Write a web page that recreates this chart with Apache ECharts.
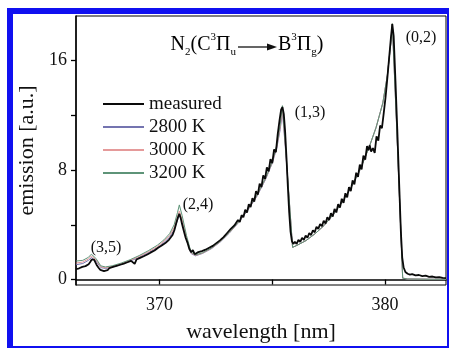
<!DOCTYPE html>
<html><head><meta charset="utf-8">
<script src="https://cdn.jsdelivr.net/npm/echarts@6/dist/echarts.min.js"></script>
<style>html,body{margin:0;padding:0;background:#fff}#c{width:449px;height:348px}</style>
</head><body><div id="c"></div>
<script>
const seriesNames = ['measured', '2800 K', '3000 K', '3200 K'];
const xTickLabels = [370, 380];
const xTicks = [370, 375, 380];
const yTickLabels = [0, 8, 16];
const yTicks = [0, 4, 8, 12, 16];
const bandLabels = ['(0,2)', '(1,3)', '(2,4)', '(3,5)'];

const measured = [[366.30,0.75],[366.37,0.66],[366.44,0.82],[366.51,0.74],[366.58,0.92],[366.65,0.84],[366.72,0.98],[366.79,0.90],[366.86,1.12],[366.93,1.28],[366.99,1.45],[367.04,1.58],[367.10,1.45],[367.16,1.25],[367.23,1.02],[367.30,0.86],[367.38,0.70],[367.46,0.78],[367.54,0.62],[367.62,0.74],[367.70,0.68],[367.78,0.84],[367.86,0.76],[367.94,0.92],[368.02,0.85],[368.10,1.00],[368.18,0.93],[368.26,1.08],[368.34,1.01],[368.42,1.16],[368.50,1.10],[368.58,1.26],[368.66,1.19],[368.74,1.36],[368.82,1.30],[368.90,1.15],[368.98,1.46],[369.06,1.40],[369.14,1.58],[369.22,1.50],[369.30,1.70],[369.38,1.63],[369.46,1.83],[369.54,1.76],[369.62,1.98],[369.70,1.90],[369.78,2.12],[369.86,2.05],[369.94,2.32],[370.02,2.24],[370.10,2.48],[370.18,2.40],[370.26,2.66],[370.34,2.58],[370.42,2.90],[370.50,2.82],[370.58,3.25],[370.66,3.60],[370.74,4.10],[370.82,4.55],[370.88,4.80],[370.94,4.50],[371.00,4.05],[371.08,3.55],[371.16,3.05],[371.24,2.70],[371.32,2.25],[371.40,2.00],[371.48,2.15],[371.56,1.85],[371.64,1.75],[371.72,2.00],[371.80,1.90],[371.88,2.08],[371.96,2.02],[372.04,2.18],[372.12,2.12],[372.20,2.32],[372.28,2.26],[372.36,2.46],[372.44,2.40],[372.52,2.66],[372.60,2.56],[372.68,2.86],[372.76,2.76],[372.84,3.10],[372.92,3.00],[373.00,3.40],[373.08,3.30],[373.16,3.70],[373.24,3.60],[373.32,3.95],[373.40,3.85],[373.48,4.35],[373.56,4.20],[373.64,4.70],[373.72,4.55],[373.80,5.10],[373.88,4.90],[373.96,5.50],[374.04,5.30],[374.12,5.95],[374.20,5.70],[374.28,6.45],[374.36,6.20],[374.44,7.00],[374.52,6.75],[374.60,7.60],[374.68,7.35],[374.76,8.20],[374.84,7.90],[374.92,8.80],[375.00,8.50],[375.08,9.50],[375.16,9.30],[375.24,10.60],[375.32,11.60],[375.39,12.40],[375.45,12.60],[375.51,12.10],[375.57,10.80],[375.63,8.90],[375.69,6.80],[375.75,4.90],[375.81,3.50],[375.87,2.80],[375.93,2.60],[376.00,2.75],[376.08,2.60],[376.16,2.90],[376.24,2.75],[376.32,3.05],[376.40,2.90],[376.48,3.20],[376.56,3.05],[376.64,3.40],[376.72,3.25],[376.80,3.60],[376.88,3.45],[376.96,3.85],[377.04,3.70],[377.12,4.05],[377.20,3.90],[377.28,4.30],[377.36,4.10],[377.44,4.55],[377.52,4.35],[377.60,4.85],[377.68,4.60],[377.76,5.15],[377.84,4.90],[377.92,5.50],[378.00,5.25],[378.08,5.90],[378.16,5.60],[378.24,6.30],[378.32,6.00],[378.40,6.75],[378.48,6.45],[378.56,7.25],[378.64,6.95],[378.72,7.80],[378.80,7.50],[378.88,8.40],[378.96,8.05],[379.04,9.05],[379.12,8.75],[379.20,9.75],[379.26,9.45],[379.32,9.80],[379.38,9.35],[379.46,9.60],[379.54,9.25],[379.62,10.45],[379.70,10.15],[379.78,11.25],[379.86,11.05],[379.94,12.15],[380.02,13.30],[380.10,14.70],[380.18,16.20],[380.26,17.70],[380.32,18.65],[380.38,17.80],[380.46,14.50],[380.54,11.00],[380.62,7.20],[380.70,3.50],[380.76,1.60],[380.82,0.90],[380.90,0.55],[381.00,0.42],[381.10,0.36],[381.20,0.40],[381.35,0.30],[381.50,0.33],[381.65,0.25],[381.80,0.28],[381.95,0.20],[382.10,0.22],[382.25,0.15],[382.40,0.18],[382.55,0.12],[382.70,0.10]];

const simWavelength = [366.30,366.6,366.85,366.98,367.05,367.18,367.4,367.6,367.9,368.3,368.7,369.1,369.5,369.9,370.2,370.45,370.65,370.8,370.88,371.0,371.2,371.4,371.6,371.9,372.3,372.7,373.1,373.5,373.9,374.3,374.7,375.0,375.2,375.35,375.45,375.6,375.75,375.9,376.1,376.5,376.9,377.3,377.7,378.1,378.5,378.9,379.3,379.6,379.9,380.1,380.25,380.32,380.5,380.65,380.78,381.0,381.5,382.0,382.7];
const sim2800 = [1.08,1.17,1.4,1.6,1.68,1.36,0.87,0.81,0.9,1.1,1.35,1.62,1.95,2.32,2.7,3.1,3.62,4.35,4.72,4.2,2.95,1.9,1.73,1.9,2.25,2.75,3.4,4.15,5.03,6.02,7.3,8.5,9.6,10.95,12.25,9.2,5.8,2.35,2.5,2.85,3.35,3.95,4.75,5.65,6.75,8.05,9.7,11.1,12.9,14.9,17.2,18.65,11.7,5.5,0.1,0.04,0.03,0.02,0.02];
const sim3000 = [1.2,1.28,1.5,1.72,1.8,1.45,0.93,0.86,0.95,1.15,1.4,1.68,2.02,2.4,2.8,3.22,3.8,4.6,5.0,4.4,3.05,1.95,1.76,1.92,2.27,2.77,3.42,4.17,5.06,6.06,7.35,8.55,9.7,11.1,12.45,9.3,5.85,2.35,2.5,2.85,3.35,3.95,4.75,5.65,6.75,8.05,9.7,11.1,12.9,14.9,17.2,18.7,11.7,5.5,0.1,0.04,0.03,0.02,0.02];
const sim3200 = [1.35,1.4,1.62,1.85,1.95,1.55,1.0,0.92,1.0,1.2,1.45,1.75,2.1,2.5,2.9,3.35,4.0,4.9,5.45,4.7,3.2,2.0,1.8,1.95,2.3,2.8,3.45,4.2,5.1,6.1,7.4,8.6,9.8,11.3,12.7,9.4,5.9,2.35,2.5,2.85,3.35,3.95,4.75,5.65,6.75,8.05,9.7,11.1,12.9,14.9,17.2,18.7,11.7,5.5,0.1,0.04,0.03,0.02,0.02];

const FONT = '"Liberation Serif", "Times New Roman", serif';
const zip = (xs, ys) => xs.map((x, i) => [x, ys[i]]);

const chart = echarts.init(document.getElementById('c'), null, {renderer: 'canvas'});

function simSeries(name, data, color) {
  return {name, type: 'line', data: zip(simWavelength, data), symbol: 'none', showSymbol: false,
    lineStyle: {color, width: 1}, itemStyle: {color}, silent: true};
}

const titleRich = {
  n: {fontFamily: FONT, fontSize: 20, color: '#111', lineHeight: 26, verticalAlign: 'middle'},
  sub: {fontFamily: FONT, fontSize: 11, color: '#111', lineHeight: 10, verticalAlign: 'bottom'},
  sup: {fontFamily: FONT, fontSize: 11, color: '#111', lineHeight: 14, verticalAlign: 'top'}
};

const labelFont = '16px "Liberation Serif", serif';
const option = {
  backgroundColor: '#fff',
  animation: false,
  grid: {left: 76, right: 3, top: 16, bottom: 57, show: true, borderColor: '#000', borderWidth: 1, backgroundColor: 'transparent'},
  xAxis: {
    type: 'value', min: 366.3, max: 382.7,
    name: 'wavelength [nm]', nameLocation: 'middle', nameGap: 36,
    nameTextStyle: {fontFamily: FONT, fontSize: 22, color: '#111'},
    axisLine: {show: true, lineStyle: {color: '#000', width: 1.5}},
    axisTick: {show: true, length: 5, lineStyle: {color: '#000', width: 1.3}, customValues: xTicks},
    axisLabel: {fontFamily: FONT, fontSize: 18, color: '#111', margin: 11, customValues: xTickLabels},
    splitLine: {show: false}
  },
  yAxis: {
    type: 'value', min: -0.4, max: 19.25,
    name: 'emission [a.u.]', nameLocation: 'middle', nameGap: 38, nameRotate: 90,
    nameTextStyle: {fontFamily: FONT, fontSize: 22, color: '#111'},
    axisLine: {show: true, lineStyle: {color: '#000', width: 1.5}},
    axisTick: {show: true, length: 5, lineStyle: {color: '#000', width: 1.3}, customValues: yTicks},
    axisLabel: {fontFamily: FONT, fontSize: 18, color: '#111', margin: 9, customValues: yTickLabels},
    splitLine: {show: false}
  },
  legend: {
    data: seriesNames, orient: 'vertical', left: 97, top: 89,
    itemWidth: 41, itemHeight: 14, itemGap: 3,
    itemStyle: {color: 'rgba(0,0,0,0)', borderColor: 'rgba(0,0,0,0)', borderWidth: 0, opacity: 0},
    textStyle: {fontFamily: FONT, fontSize: 19, color: '#111', lineHeight: 20},
    selectedMode: false
  },
  series: [
    simSeries('2800 K', sim2800, '#7474b0'),
    simSeries('3000 K', sim3000, '#e59a9a'),
    simSeries('3200 K', sim3200, '#5e9478'),
    {name: 'measured', type: 'line', data: measured, symbol: 'none', showSymbol: false,
     lineStyle: {color: '#0a0a0a', width: 1.8}, itemStyle: {color: '#0a0a0a'}, silent: true}
  ],
  graphic: [
    {type: 'text', x: 236, y: 45, z: 10, style: {
      text: '{n|N}{sub|2}{n|(C}{sup|3}{n|Π}{sub|u}', rich: titleRich, align: 'right', verticalAlign: 'middle'}},
    {type: 'line', z: 10, shape: {x1: 238, y1: 47, x2: 270, y2: 47}, style: {stroke: '#111', lineWidth: 1.3}},
    {type: 'polygon', z: 10, shape: {points: [[267, 43.5], [277, 47], [267, 50.5]]}, style: {fill: '#111'}},
    {type: 'text', x: 278, y: 45, z: 10, style: {
      text: '{n|B}{sup|3}{n|Π}{sub|g}{n|)}', rich: titleRich, align: 'left', verticalAlign: 'middle'}},
    {type: 'text', x: 421, y: 38, z: 10, style: {text: bandLabels[0], font: labelFont, fill: '#111', align: 'center', verticalAlign: 'middle'}},
    {type: 'text', x: 310, y: 113, z: 10, style: {text: bandLabels[1], font: labelFont, fill: '#111', align: 'center', verticalAlign: 'middle'}},
    {type: 'text', x: 198, y: 205, z: 10, style: {text: bandLabels[2], font: labelFont, fill: '#111', align: 'center', verticalAlign: 'middle'}},
    {type: 'text', x: 106, y: 248, z: 10, style: {text: bandLabels[3], font: labelFont, fill: '#111', align: 'center', verticalAlign: 'middle'}},
    {type: 'rect', z: 100, shape: {x: 7, y: 8, width: 442, height: 6}, style: {fill: '#1010f0'}},
    {type: 'rect', z: 100, shape: {x: 7, y: 8, width: 6, height: 340}, style: {fill: '#1010f0'}},
    {type: 'rect', z: 100, shape: {x: 447, y: 8, width: 2, height: 340}, style: {fill: '#1010f0'}},
    {type: 'rect', z: 100, shape: {x: 7, y: 346, width: 442, height: 2}, style: {fill: '#1010f0'}}
  ]
};
chart.setOption(option);
</script></body></html>
